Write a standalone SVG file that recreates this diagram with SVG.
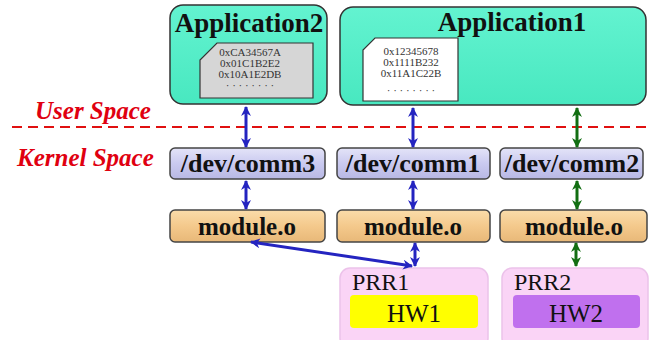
<svg xmlns="http://www.w3.org/2000/svg" width="649" height="340" viewBox="0 0 649 340" font-family="Liberation Serif, Times New Roman, Tinos, DejaVu Serif, serif">
<defs>
<linearGradient id="gApp" x1="0" y1="0" x2="0" y2="1"><stop offset="0" stop-color="#63f3d0"/><stop offset="1" stop-color="#48e8c0"/></linearGradient>
<linearGradient id="gComm" x1="0" y1="0" x2="0" y2="1"><stop offset="0" stop-color="#e4e4f8"/><stop offset="0.5" stop-color="#cacaf0"/><stop offset="1" stop-color="#b8b8e4"/></linearGradient>
<linearGradient id="gMod" x1="0" y1="0" x2="0" y2="1"><stop offset="0" stop-color="#fadcaa"/><stop offset="0.5" stop-color="#f4c98c"/><stop offset="1" stop-color="#e8b878"/></linearGradient>
<marker id="ab" viewBox="0 0 10 10" refX="9" refY="5" markerWidth="10" markerHeight="10" markerUnits="userSpaceOnUse" orient="auto-start-reverse"><path d="M0,0 L10,5 L0,10 L3,5 Z" fill="#2424c0"/></marker>
<marker id="ag" viewBox="0 0 10 10" refX="9" refY="5" markerWidth="10" markerHeight="10" markerUnits="userSpaceOnUse" orient="auto-start-reverse"><path d="M0,0 L10,5 L0,10 L3,5 Z" fill="#126e12"/></marker>
</defs>
<style>
.app{fill:url(#gApp);stroke:#333;stroke-width:1.5}
.comm{fill:url(#gComm);stroke:#444;stroke-width:1.5}
.mod{fill:url(#gMod);stroke:#444;stroke-width:1.5}
.prr{fill:#fad4f6;stroke:#ecc2ea;stroke-width:1.5}
.memo{stroke:#333;stroke-width:1.2}
.t{font-weight:bold;fill:#111;text-anchor:middle}
.m{font-size:11px;fill:#333;text-anchor:middle}
.r{fill:#111}
.lab{font-weight:bold;font-style:italic;font-size:25px;fill:#e00010}
.bl{stroke:#2424c0;stroke-width:3;fill:none;marker-start:url(#ab);marker-end:url(#ab)}
.gr{stroke:#126e12;stroke-width:3;fill:none;marker-start:url(#ag);marker-end:url(#ag)}
</style>

<text class="lab" x="35" y="119" font-family="Liberation Serif">User Space</text>
<text class="lab" x="17" y="166" font-family="Liberation Serif">Kernel Space</text>
<line x1="12" y1="127" x2="649" y2="127" stroke="#e01010" stroke-width="2" stroke-dasharray="10,6"/>

<g id="app2">
<rect class="app" x="170" y="5" width="157" height="99" rx="13"/>
<text class="t" x="249" y="32" font-size="27" font-family="Liberation Serif">Application2</text>
<path class="memo" d="M217,43 L313,43 L313,98 L200,98 L200,60 Z" fill="#d6d6d6"/>
<text class="m" x="250" y="56">0xCA34567A</text>
<text class="m" x="250" y="67">0x01C1B2E2</text>
<text class="m" x="250" y="78">0x10A1E2DB</text>
<text class="m" x="250" y="89">· · · · · · · ·</text>
</g>

<g id="app1">
<rect class="app" x="340" y="7" width="306" height="98" rx="13"/>
<text class="t" x="512" y="31" font-size="27" font-family="Liberation Serif">Application1</text>
<path class="memo" d="M375,38 L458,38 L458,101 L363,101 L363,50 Z" fill="#ffffff"/>
<text class="m" x="411" y="55">0x12345678</text>
<text class="m" x="411" y="66">0x1111B232</text>
<text class="m" x="411" y="77">0x11A1C22B</text>
<text class="m" x="411" y="94">· · · · · · · ·</text>
</g>

<g id="comm3"><rect class="comm" x="170" y="148" width="155" height="31" rx="5"/><text class="t" x="248" y="172" font-size="26">/dev/comm3</text></g>
<g id="comm1"><rect class="comm" x="337" y="148" width="153" height="31" rx="5"/><text class="t" x="413" y="172" font-size="26">/dev/comm1</text></g>
<g id="comm2"><rect class="comm" x="500" y="148" width="143" height="31" rx="5"/><text class="t" x="572" y="172" font-size="26">/dev/comm2</text></g>

<g id="mod3"><rect class="mod" x="170" y="210" width="155" height="32" rx="5"/><text class="t" x="247" y="235" font-size="25">module.o</text></g>
<g id="mod1"><rect class="mod" x="337" y="210" width="153" height="32" rx="5"/><text class="t" x="413" y="235" font-size="25">module.o</text></g>
<g id="mod2"><rect class="mod" x="500" y="210" width="147" height="32" rx="5"/><text class="t" x="574" y="235" font-size="25">module.o</text></g>

<g id="prr1">
<rect class="prr" x="340" y="268" width="148" height="80" rx="10"/>
<text class="r" x="352" y="290" font-size="24">PRR1</text>
<rect x="350" y="295" width="128" height="33" rx="4" fill="#ffff00"/>
<text class="r" x="414" y="322" font-size="25" text-anchor="middle">HW1</text>
</g>
<g id="prr2">
<rect class="prr" x="502" y="268" width="146" height="80" rx="10"/>
<text class="r" x="514" y="290" font-size="24">PRR2</text>
<rect x="513" y="295" width="127" height="33" rx="4" fill="#c070ee"/>
<text class="r" x="576" y="322" font-size="25" text-anchor="middle">HW2</text>
</g>

<g id="connectors">
<line class="bl" x1="246" y1="107" x2="246" y2="147"/>
<line class="bl" x1="246" y1="181" x2="246" y2="209"/>
<line class="bl" x1="413" y1="108" x2="413" y2="147"/>
<line class="bl" x1="413" y1="181" x2="413" y2="209"/>
<line class="bl" x1="415" y1="243" x2="415" y2="266"/>
<line class="bl" x1="251" y1="242" x2="412" y2="266"/>
<line class="gr" x1="577" y1="108" x2="577" y2="147"/>
<line class="gr" x1="577" y1="181" x2="577" y2="209"/>
<line class="gr" x1="576" y1="243" x2="576" y2="266"/>
</g>
</svg>
